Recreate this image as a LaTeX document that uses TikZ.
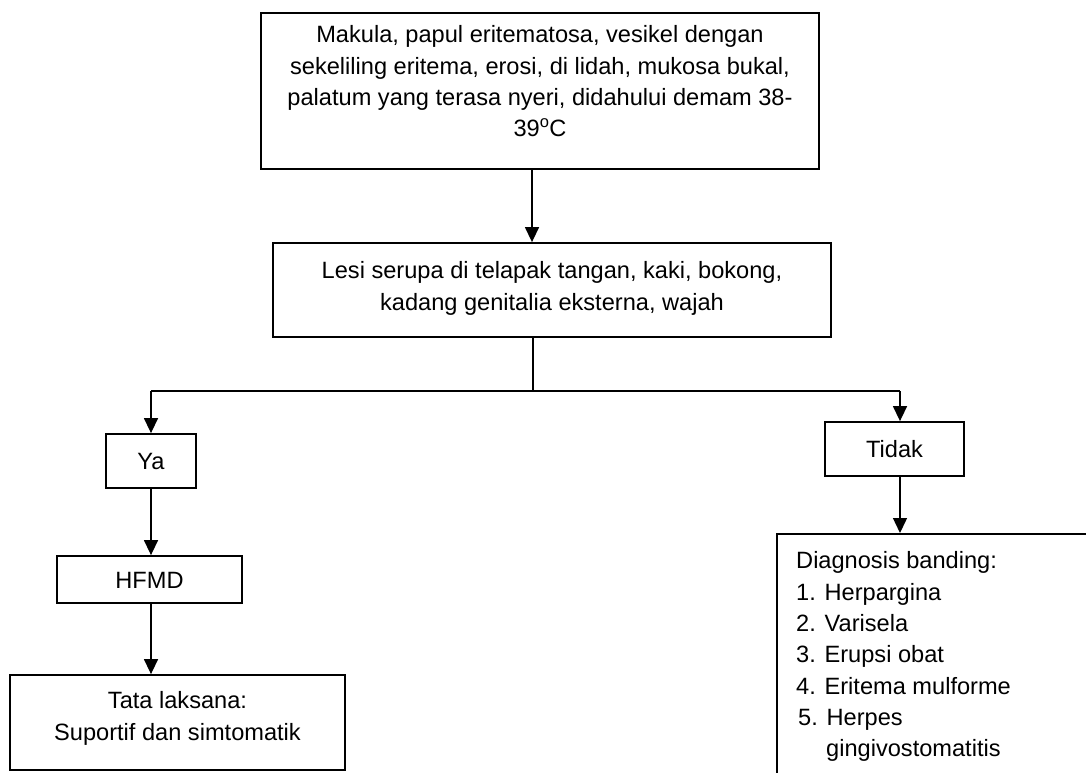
\documentclass[tikz,border=0pt]{standalone}
\usepackage{fontspec}
\setmainfont{Liberation Sans}
\usetikzlibrary{arrows.meta}
\begin{document}
\begin{tikzpicture}[x=1pt,y=-1pt,
  every node/.style={font=\fontsize{23.6}{31.3}\selectfont, inner sep=0pt},
  box/.style={draw, line width=1.8pt, rectangle, minimum width=#1},
  onel/.style={text height=17pt, text depth=0pt},
  conn/.style={line width=1.4pt},
  arr/.style={conn, -{Triangle[length=15pt,width=14pt]}}]
\useasboundingbox (0,0) rectangle (1086,772);
\clip (0,0) rectangle (1086,772);
\fill[white] (0,0) rectangle (1086,772);

% boxes
\node[box=558pt, minimum height=156pt] (top) at (540,91) {};
\node[align=center, anchor=north] (toptext) at (540,25.6)
  {Makula, papul eritematosa, vesikel dengan\\
   sekeliling eritema, erosi, di lidah, mukosa bukal,\\
   palatum yang terasa nyeri, didahului demam 38-\\
   39\textsuperscript{o}C};

\node[box=558pt, minimum height=94pt] (mid) at (552,290) {};
\node[align=center, anchor=north] (midtext) at (552,261.6)
  {Lesi serupa di telapak tangan, kaki, bokong,\\
   kadang genitalia eksterna, wajah};

\node[box=90pt, minimum height=54pt, onel] (ya) at (151,461) {Ya};
\node[box=185pt, minimum height=47pt, onel] (hfmd) at (149.5,579.5) {HFMD};
\node[box=335pt, minimum height=95pt] (tata) at (177.5,722.5) {};
\node[align=center, anchor=north, font=\fontsize{23.6}{32}\selectfont] (tatatext) at (177.5,691.6)
  {Tata laksana:\\ Suportif dan simtomatik};

\node[box=139pt, minimum height=54pt, onel] (tidak) at (894.5,449) {Tidak};
\node[box=340pt, minimum height=270pt, anchor=north west] (diag) at (776,533) {};
\node[align=left, anchor=north west] (diagtext) at (796,551.6)
  {Diagnosis banding:\\
   1. Herpargina\\
   2. Varisela\\
   3. Erupsi obat\\
   4. Eritema mulforme\\
   \hspace*{2pt}5. Herpes\\
   \hspace*{30pt}gingivostomatitis};

% connector positions
\coordinate (stem) at (532,0);
\coordinate (split) at (533,391);
\coordinate (ldrop) at (151,391);
\coordinate (rdrop) at (900,391);

% connectors
\draw[arr] (top.south -| stem) -- (mid.north -| stem);
\draw[conn] (mid.south -| split) -- (split);
\draw[conn] (ldrop) -- (rdrop);
\draw[arr] (ldrop) -- (ya.north -| ldrop);
\draw[arr] (rdrop) -- (tidak.north -| rdrop);
\draw[arr] (ya.south -| ldrop) -- (hfmd.north -| ldrop);
\draw[arr] (hfmd.south -| ldrop) -- (tata.north -| ldrop);
\draw[arr] (tidak.south -| rdrop) -- (diag.north -| rdrop);
\end{tikzpicture}
\end{document}
